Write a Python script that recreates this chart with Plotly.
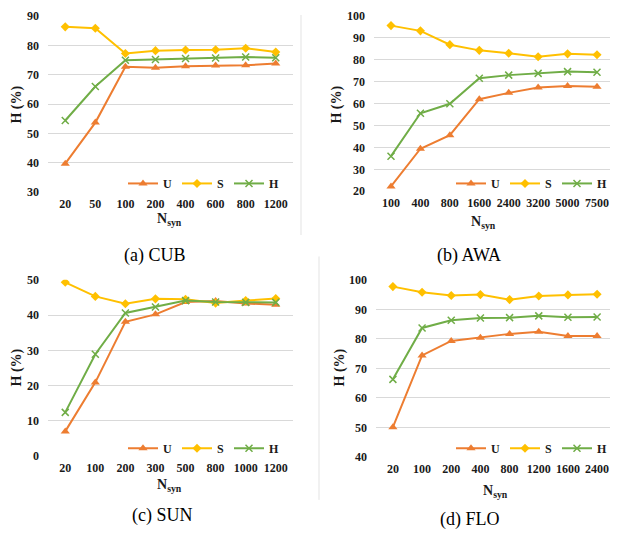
import plotly.graph_objects as go

# ---------------- data ----------------
cub_x = ["20", "50", "100", "200", "400", "600", "800", "1200"]
cub_U = [39.7, 53.7, 72.7, 72.4, 72.9, 73.1, 73.2, 73.8]
cub_S = [86.3, 85.8, 77.2, 78.2, 78.4, 78.5, 79.0, 77.7]
cub_H = [54.4, 66.0, 74.9, 75.2, 75.5, 75.7, 76.0, 75.8]

awa_x = ["100", "400", "800", "1600", "2400", "3200", "5000", "7500"]
awa_U = [22.2, 39.4, 45.6, 62.0, 64.9, 67.3, 68.0, 67.7]
awa_S = [95.6, 93.2, 86.9, 84.3, 83.0, 81.4, 82.7, 82.3]
awa_H = [36.0, 55.6, 59.9, 71.6, 73.0, 73.8, 74.6, 74.3]

sun_x = ["20", "100", "200", "300", "500", "800", "1000", "1200"]
sun_U = [7.0, 20.9, 38.1, 40.2, 43.7, 44.0, 43.3, 42.9]
sun_S = [49.3, 45.3, 43.2, 44.6, 44.5, 43.4, 44.1, 44.7]
sun_H = [12.4, 28.9, 40.6, 42.3, 44.1, 43.7, 43.6, 43.6]

flo_x = ["20", "100", "200", "400", "800", "1200", "1600", "2400"]
flo_U = [50.1, 74.4, 79.3, 80.4, 81.7, 82.4, 81.0, 81.0]
flo_S = [97.7, 95.8, 94.7, 95.0, 93.3, 94.5, 94.9, 95.1]
flo_H = [66.3, 83.7, 86.3, 87.1, 87.2, 87.8, 87.3, 87.4]

captions = ["(a) CUB", "(b) AWA", "(c) SUN", "(d) FLO"]
y_ranges = [(30, 90), (20, 100), (0, 50), (40, 100)]

# ---------------- style ----------------
OFF = 8                      # default page body margin in the html
W, H = 618 - OFF, 539 - OFF  # figure size so the page fits the window
FONT = "Liberation Serif, Times New Roman, serif"
C_U, C_S, C_H = "#ED7D31", "#FFC000", "#70AD47"
GRID = "#D9D9D9"
TICKFONT = dict(family=FONT, size=12, color="#1a1a1a", weight="bold")

def px_x(p):
    return (p - OFF) / W

def px_y(p):
    return 1 - (p - OFF) / H

# panel geometry in window pixels: (left, right, top, bottom)
panels = [
    (48, 293, 9, 190),
    (374, 614, 9, 189),
    (48, 293, 280, 461),
    (376, 614, 280, 462),
]
datasets = [
    (cub_x, cub_U, cub_S, cub_H),
    (awa_x, awa_U, awa_S, awa_H),
    (sun_x, sun_U, sun_S, sun_H),
    (flo_x, flo_U, flo_S, flo_H),
]
ntitle_pos = [(170, 218), (483, 221), (170, 491), (495, 497)]
ytitle_pos = [(17, 100), (337, 100), (17, 370), (340, 370)]
cap_pos = [(155, 255), (469, 255), (162, 522), (470, 526)]
legend_pos = [(284, 181), (612, 181), (284, 453), (612, 453)]

fig = go.Figure()
layout = dict(
    width=W, height=H,
    margin=dict(l=0, r=0, t=0, b=0),
    plot_bgcolor="white", paper_bgcolor="white",
    font=dict(family=FONT, size=12, color="#000000"),
    annotations=[], shapes=[],
)

for i, ((l, r, t, b), (xs, U, S, Hh)) in enumerate(zip(panels, datasets)):
    k = "" if i == 0 else str(i + 1)
    xa, ya = "x" + k, "y" + k
    leg = "legend" + k
    series = [
        ("U", U, C_U, dict(symbol="triangle-up", size=8)),
        ("S", S, C_S, dict(symbol="diamond", size=7)),
        ("H", Hh, C_H, dict(symbol="x-thin-open", size=7, line=dict(color=C_H, width=1.5))),
    ]
    for name, vals, col, mk in series:
        fig.add_trace(go.Scatter(
            x=xs, y=vals, name=name, mode="lines+markers",
            line=dict(color=col, width=2),
            marker=dict(color=col, **mk),
            xaxis=xa, yaxis=ya, legend=leg, showlegend=True,
        ))
    y0, y1 = y_ranges[i]
    layout["xaxis" + k] = dict(
        domain=[px_x(l), px_x(r)], anchor=ya, type="category",
        showgrid=False, showline=False, zeroline=False,
        ticks="", tickfont=TICKFONT, tickangle=0,
        ticklabelstandoff=3,
    )
    layout["yaxis" + k] = dict(
        domain=[px_y(b), px_y(t)], anchor=xa, range=[y0, y1], dtick=10,
        showgrid=True, gridcolor=GRID, gridwidth=1, zeroline=False,
        showline=False, ticks="", tickfont=TICKFONT,
        ticklabelstandoff=8,
    )
    lx, ly = legend_pos[i]
    layout[leg] = dict(
        x=px_x(lx), y=px_y(ly), xanchor="right", yanchor="middle",
        orientation="h", bgcolor="rgba(0,0,0,0)",
        font=dict(family=FONT, size=12, color="#1a1a1a", weight="bold"),
        itemwidth=30, tracegroupgap=0, traceorder="normal",
    )
    nx, ny = ntitle_pos[i]
    layout["annotations"].append(dict(
        text="<b>N<sub>syn</sub></b>", x=px_x(nx), y=px_y(ny),
        xanchor="center", yanchor="middle",
        xref="paper", yref="paper", showarrow=False,
        font=dict(family=FONT, size=14, color="#1a1a1a"),
    ))
    tx, ty = ytitle_pos[i]
    layout["annotations"].append(dict(
        text="<b>H (%)</b>", x=px_x(tx), y=px_y(ty), textangle=-90,
        xanchor="center", yanchor="middle",
        xref="paper", yref="paper", showarrow=False,
        font=dict(family=FONT, size=14, color="#1a1a1a"),
    ))
    cx, cy = cap_pos[i]
    layout["annotations"].append(dict(
        text=captions[i], x=px_x(cx), y=px_y(cy),
        xanchor="center", yanchor="middle",
        xref="paper", yref="paper", showarrow=False,
        font=dict(family=FONT, size=18, color="#000"),
    ))

# faint chart-frame borders
layout["shapes"].append(dict(type="line", xref="paper", yref="paper",
                             x0=px_x(301), x1=px_x(301), y0=px_y(8), y1=px_y(234),
                             line=dict(color="#E3E3E3", width=1)))
layout["shapes"].append(dict(type="line", xref="paper", yref="paper",
                             x0=px_x(319), x1=px_x(319), y0=px_y(256), y1=px_y(506),
                             line=dict(color="#E3E3E3", width=1)))

fig.update_layout(**layout)
fig.write_html("out.html")
